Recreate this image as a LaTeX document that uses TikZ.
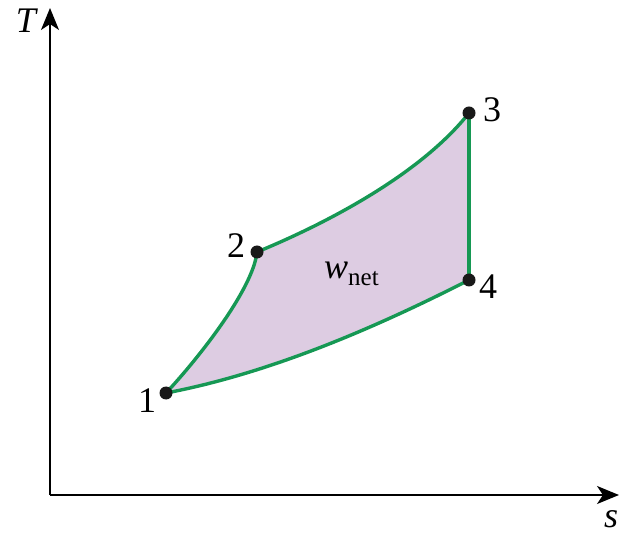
\documentclass[tikz,border=0pt]{standalone}
\usepackage{fontspec}
\setmainfont{Liberation Serif}
\usetikzlibrary{arrows.meta}
\definecolor{cyclegreen}{RGB}{22,152,84}
\definecolor{areafill}{RGB}{221,204,226}
\tikzset{
  axisline/.style={line width=1.8pt, -{Stealth[length=22pt,width=18pt,inset=6pt]}},
  cycleline/.style={line width=3.4pt, draw=cyclegreen, line join=round},
  dotnode/.style={circle, fill=black!90, inner sep=0pt, minimum size=13pt},
  lab/.style={font=\fontsize{36}{42}\selectfont, inner sep=0pt},
}
\begin{document}
\begin{tikzpicture}[x=1pt,y=-1pt]
\useasboundingbox (0,0) rectangle (621,534);
% axes
\coordinate (O) at (50,495);
\coordinate (Ttip) at (50,8);
\coordinate (Stip) at (619,495);
\draw[axisline] (O) -- (Ttip);
\draw[axisline] (O) -- (Stip);
\node[lab] (Tlab) at (27,21) {\textit{T}};
\node[lab] (slab) at (611,519) {\textit{s}};
% state points
\coordinate (c1) at (166,393);
\coordinate (c2) at (257,252);
\coordinate (c3) at (469,113);
\coordinate (c4) at (469,280);
% area and cycle
\path[fill=areafill] (c1) .. controls (196,361) and (253,290) .. (c2)
  .. controls (325,224) and (420,175) .. (c3) -- (c4)
  .. controls (369,331) and (266,374) .. (c1) -- cycle;
\draw[cycleline] (c1) .. controls (196,361) and (253,290) .. (c2);
\draw[cycleline] (c2) .. controls (325,224) and (420,175) .. (c3);
\draw[cycleline] (c3) -- (c4);
\draw[cycleline] (c4) .. controls (369,331) and (266,374) .. (c1);
% dots
\node[dotnode] (p1) at (c1) {};
\node[dotnode] (p2) at (c2) {};
\node[dotnode] (p3) at (c3) {};
\node[dotnode] (p4) at (c4) {};
% labels
\node[lab] (l1) at (147,401) {1};
\node[lab] (l2) at (236,246) {2};
\node[lab] (l3) at (492,110) {3};
\node[lab] (l4) at (488,287) {4};
\node[lab, anchor=base west] (wnet) at (324,279) {\textit{w}\raisebox{-7pt}{\fontsize{25}{30}\selectfont net}};
\end{tikzpicture}
\end{document}
